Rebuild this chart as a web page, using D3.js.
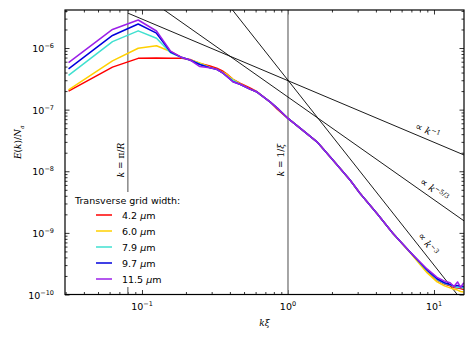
<!DOCTYPE html>
<html>
<head>
<meta charset="utf-8">
<script src="https://cdn.jsdelivr.net/npm/d3@7"></script>
<style>
body { margin: 0; background: #fff; }
text { font-family: "DejaVu Sans", sans-serif; }
.math { font-family: "DejaVu Serif", serif; font-style: italic; }
</style>
</head>
<body>
<div id="plot"></div>
<script>
// wavenumber samples (k xi)
var kVals = [0.0314, 0.0628, 0.0942, 0.1257, 0.157, 0.188, 0.213, 0.249, 0.292, 0.325,
	0.359, 0.38, 0.42, 0.469, 0.549, 0.614, 0.753, 0.841, 1.0, 1.21,
	1.58, 2.03, 2.66, 3.11, 4.07, 5.24, 6.85, 8.96, 10.5, 11.8,
	12.9, 13.7, 14.5, 15.2, 16.0];

// spectra E(k)/N_a, one per transverse grid width
var eRed = [2.0e-7, 4.9e-7, 6.8e-7, 6.9e-7, 6.8e-7, 6.8e-7, 6.5e-7, 5.6e-7, 5.1e-7, 4.7e-7,
	4.2e-7, 3.8e-7, 3.1e-7, 2.7e-7, 2.25e-7, 1.95e-7, 1.34e-7, 1.03e-7, 7.2e-8, 5.0e-8,
	3.0e-8, 1.52e-8, 7.2e-9, 4.4e-9, 2.07e-9, 9.8e-10, 4.9e-10, 2.4e-10, 1.72e-10, 1.48e-10,
	1.38e-10, 1.3e-10, 1.28e-10, 1.25e-10, 1.2e-10];
var eYellow = [2.1e-7, 6.2e-7, 9.9e-7, 1.09e-6, 8.8e-7, 7.0e-7, 6.4e-7, 5.7e-7, 4.9e-7, 4.5e-7,
	4.0e-7, 3.75e-7, 3.1e-7, 2.65e-7, 2.15e-7, 1.93e-7, 1.34e-7, 1.07e-7, 7.2e-8, 5.0e-8,
	3.0e-8, 1.52e-8, 7.2e-9, 4.4e-9, 2.07e-9, 9.8e-10, 4.8e-10, 2.25e-10, 1.6e-10, 1.38e-10,
	1.28e-10, 1.22e-10, 1.18e-10, 1.12e-10, 1.1e-10];
var eCyan = [3.6e-7, 1.27e-6, 1.9e-6, 1.44e-6, 8.4e-7, 7.0e-7, 6.4e-7, 5.5e-7, 4.8e-7, 4.5e-7,
	3.9e-7, 3.5e-7, 3.0e-7, 2.58e-7, 2.15e-7, 1.93e-7, 1.34e-7, 1.07e-7, 7.2e-8, 5.0e-8,
	3.0e-8, 1.52e-8, 7.2e-9, 4.4e-9, 2.07e-9, 9.8e-10, 4.9e-10, 2.45e-10, 1.75e-10, 1.5e-10,
	1.42e-10, 1.35e-10, 1.3e-10, 1.3e-10, 1.28e-10];
var eBlue = [4.6e-7, 1.6e-6, 2.45e-6, 1.74e-6, 8.6e-7, 7.0e-7, 6.4e-7, 5.4e-7, 4.8e-7, 4.5e-7,
	3.9e-7, 3.5e-7, 2.84e-7, 2.58e-7, 2.15e-7, 1.93e-7, 1.34e-7, 1.07e-7, 7.2e-8, 5.0e-8,
	3.0e-8, 1.52e-8, 7.2e-9, 4.4e-9, 2.07e-9, 9.8e-10, 4.9e-10, 2.5e-10, 1.8e-10, 1.55e-10,
	1.45e-10, 1.38e-10, 1.4e-10, 1.35e-10, 1.35e-10];
var ePurple = [5.8e-7, 2.0e-6, 2.85e-6, 1.89e-6, 8.9e-7, 7.0e-7, 6.4e-7, 5.0e-7, 4.8e-7, 4.5e-7,
	3.9e-7, 3.5e-7, 2.84e-7, 2.58e-7, 2.15e-7, 1.93e-7, 1.34e-7, 1.07e-7, 7.2e-8, 5.0e-8,
	3.0e-8, 1.52e-8, 7.2e-9, 4.4e-9, 2.07e-9, 9.8e-10, 4.9e-10, 2.6e-10, 1.9e-10, 1.65e-10,
	1.55e-10, 1.35e-10, 1.6e-10, 1.3e-10, 1.55e-10];

var seriesNames = ["4.2", "6.0", "7.9", "9.7", "11.5"];
var seriesColours = ["#ff0000", "#ffd000", "#40e0d0", "#0000dd", "#9b1fe8"];

// reference power laws E = amp * k^exp
var lawExps = [-1, -5 / 3, -3];
var lawAmps = [2.95e-7, 1.6e-7, 3.0e-7];
var lawLabels = ["\u22121", "\u22125/3", "\u22123"];
var lawRange = [0.08, 16.05];
var lawLabelK = [8.6, 9.3, 8.2];

// vertical markers k = pi/R and k = 1/xi
var markK = [0.08, 1.0];
var markLabels = [["k", " = \u03c0/", "R"], ["k", " = 1/", "\u03be"]];

var xMajor = [0.1, 1, 10];
var yMajor = [1e-10, 1e-9, 1e-8, 1e-7, 1e-6];
var xMajorLabels = ["\u22121", "0", "1"];
var yMajorLabels = ["\u221210", "\u22129", "\u22128", "\u22127", "\u22126"];

var margin = { top: 10, right: 11, bottom: 55.5, left: 65 },
	width = 475 - margin.left - margin.right, height = 350 - margin.top - margin.bottom;

var svg = d3.select("#plot")
	.append("svg")
	.attr("width", 475)
	.attr("height", 350)
	.append("g")
	.attr("transform", "translate(" + margin.left + "," + margin.top + ")");

var xScale = d3.scaleLog().domain([0.0297, 16.05]).range([0, width]);
var yScale = d3.scaleLog().domain([1e-10, 4.14e-6]).range([height, 0]);

//minor ticks 2..9 in each decade
function minors(lo, hi, dom) {
	var out = [];
	for (var p = lo; p <= hi; p++) {
		for (var m = 2; m <= 9; m++) {
			var v = m * Math.pow(10, p);
			if (v >= dom[0] && v <= dom[1]) out.push(v);
		}
	}
	return out;
}
var xMinor = minors(-2, 1, xScale.domain());
var yMinor = minors(-10, -6, yScale.domain());

svg.append("clipPath").attr("id", "clip")
	.append("rect").attr("width", width).attr("height", height);

//ticks on all four sides, pointing inward
function tickAxis(axis, tr, vals, size) {
	var g = svg.append("g")
		.attr("transform", tr)
		.call(axis.tickValues(vals).tickSize(size).tickFormat(""));
	g.select(".domain").remove();
	g.selectAll("line").attr("stroke", "#000").attr("stroke-width", 0.8);
}
tickAxis(d3.axisBottom(xScale), "translate(0," + height + ")", xMajor, -4.5);
tickAxis(d3.axisBottom(xScale), "translate(0," + height + ")", xMinor, -2.5);
tickAxis(d3.axisTop(xScale), "translate(0,0)", xMajor, -4.5);
tickAxis(d3.axisTop(xScale), "translate(0,0)", xMinor, -2.5);
tickAxis(d3.axisLeft(yScale), "translate(0,0)", yMajor, -4.5);
tickAxis(d3.axisLeft(yScale), "translate(0,0)", yMinor, -2.5);
tickAxis(d3.axisRight(yScale), "translate(" + width + ",0)", yMajor, -4.5);
tickAxis(d3.axisRight(yScale), "translate(" + width + ",0)", yMinor, -2.5);

//tick labels 10^n
xMajor.forEach(function (v, i) {
	var t = svg.append("text")
		.attr("x", xScale(v)).attr("y", height + 15.5)
		.attr("text-anchor", "middle").attr("font-size", 9.5);
	t.append("tspan").text("10");
	t.append("tspan").attr("dy", -4).attr("font-size", 6.5).text(xMajorLabels[i]);
});
yMajor.forEach(function (v, i) {
	var t = svg.append("text")
		.attr("x", -11).attr("y", yScale(v) + 4)
		.attr("text-anchor", "end").attr("font-size", 9.5);
	t.append("tspan").text("10");
	t.append("tspan").attr("dy", -4).attr("font-size", 6.5).text(yMajorLabels[i]);
});

var plot = svg.append("g").attr("clip-path", "url(#clip)");

//vertical markers
markK.forEach(function (k) {
	plot.append("line")
		.attr("x1", xScale(k)).attr("x2", xScale(k))
		.attr("y1", 0).attr("y2", height)
		.attr("stroke", "#888").attr("stroke-width", 1.5);
});

//power law guide lines
var line = d3.line()
	.x(function (d) { return xScale(d[0]); })
	.y(function (d) { return yScale(d[1]); });

lawExps.forEach(function (p, i) {
	var pts = lawRange.map(function (k) { return [k, lawAmps[i] * Math.pow(k, p)]; });
	plot.append("path")
		.attr("d", line(pts))
		.attr("fill", "none").attr("stroke", "#000").attr("stroke-width", 0.9);
});

//spectra
var spectra = [eRed, eYellow, eCyan, eBlue, ePurple];
spectra.forEach(function (ser, i) {
	plot.append("path")
		.attr("d", line(kVals.map(function (k, j) { return [k, ser[j]]; })))
		.attr("fill", "none")
		.attr("stroke", seriesColours[i])
		.attr("stroke-width", 1.5)
		.attr("stroke-linejoin", "round");
});

//power law labels, rotated along the lines
lawExps.forEach(function (p, i) {
	var k = lawLabelK[i];
	var x0 = xScale(k), y0 = yScale(lawAmps[i] * Math.pow(k, p));
	var x1 = xScale(k * 1.2), y1 = yScale(lawAmps[i] * Math.pow(k * 1.2, p));
	var ang = Math.atan2(y1 - y0, x1 - x0) * 180 / Math.PI;
	var t = svg.append("text")
		.attr("transform", "translate(" + x0 + "," + y0 + ") rotate(" + ang + ")")
		.attr("y", -5).attr("text-anchor", "middle")
		.attr("font-size", 9.5).attr("class", "math");
	t.append("tspan").attr("font-style", "normal").attr("font-family", "DejaVu Sans").attr("font-size", 10).text("\u221d ");
	t.append("tspan").text("k");
	t.append("tspan").attr("dy", -3.5).attr("font-size", 6.5).attr("font-style", "normal").text(lawLabels[i]);
});

//legend, white backing hides the pi/R line below it
var lg = svg.append("g").attr("transform", "translate(5,182)");
lg.append("rect").attr("x", 0).attr("y", 0).attr("width", 122).attr("height", 95).attr("fill", "#fff");
lg.append("text").attr("x", 5).attr("y", 12).attr("font-size", 9.5).text("Transverse grid width:");
seriesNames.forEach(function (n, i) {
	var yy = 23 + i * 16;
	lg.append("line").attr("x1", 26).attr("x2", 42).attr("y1", yy).attr("y2", yy)
		.attr("stroke", seriesColours[i]).attr("stroke-width", 1.5);
	var t = lg.append("text").attr("x", 52).attr("y", yy + 3.5).attr("font-size", 9.5);
	t.append("tspan").text(n + " ");
	t.append("tspan").attr("font-style", "italic").text("\u03bc");
	t.append("tspan").text("m");
});

//labels on vertical markers
markK.forEach(function (k, i) {
	var t = svg.append("text")
		.attr("transform", "translate(" + (xScale(k) - 4) + ",150) rotate(-90)")
		.attr("text-anchor", "middle").attr("font-size", 9).attr("class", "math");
	t.append("tspan").text(markLabels[i][0]);
	t.append("tspan").attr("font-style", "normal").text(markLabels[i][1]);
	t.append("tspan").text(markLabels[i][2]);
});

//frame
svg.append("rect").attr("width", width).attr("height", height)
	.attr("fill", "none").attr("stroke", "#000").attr("stroke-width", 1.2);

//axis titles
var yl = svg.append("text")
	.attr("transform", "translate(-44," + (height / 2 - 10) + ") rotate(-90)")
	.attr("text-anchor", "middle").attr("font-size", 9).attr("class", "math");
yl.append("tspan").text("E");
yl.append("tspan").attr("font-style", "normal").text("(");
yl.append("tspan").text("k");
yl.append("tspan").attr("font-style", "normal").text(")/");
yl.append("tspan").text("N");
yl.append("tspan").attr("dy", 2.5).attr("font-size", 6).text("a");

var xl = svg.append("text")
	.attr("x", width / 2).attr("y", height + 31)
	.attr("text-anchor", "middle").attr("font-size", 9).attr("class", "math");
xl.text("k\u03be");
</script>
</body>
</html>
